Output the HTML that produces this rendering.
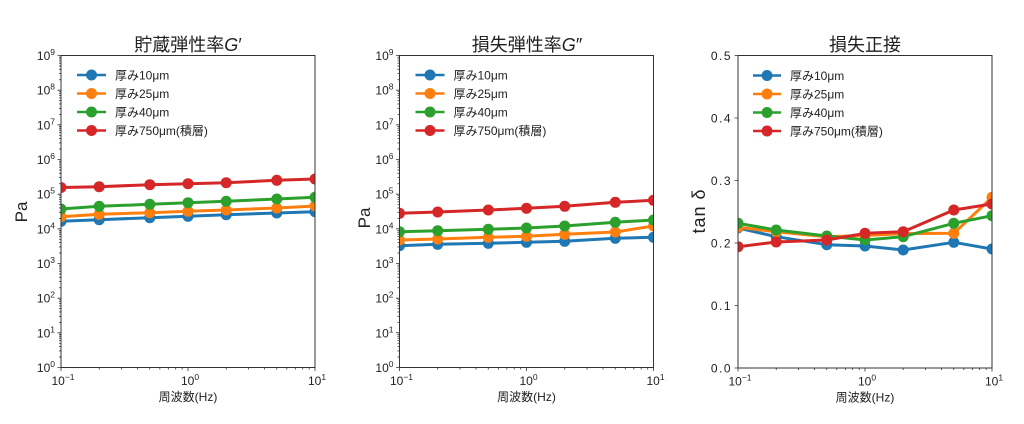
<!DOCTYPE html>
<html><head><meta charset="utf-8"><style>
html,body{margin:0;padding:0;background:#fff;}
svg{display:block;}
text{font-family:"Liberation Sans","Noto Sans CJK JP",sans-serif;fill:#222;}
</style></head><body>
<svg width="1024" height="424" viewBox="0 0 1024 424" xmlns="http://www.w3.org/2000/svg">
<defs>
<clipPath id="c1"><rect x="61" y="55.5" width="254" height="312"/></clipPath>
<clipPath id="c2"><rect x="399.5" y="55.5" width="254" height="312"/></clipPath>
<clipPath id="c3"><rect x="738" y="55.5" width="254" height="312.5"/></clipPath>
<path id="ym" d="M0,-10.44h-2M0,-16.54h-2M0,-20.87h-2M0,-24.23h-2M0,-26.98h-2M0,-29.30h-2M0,-31.31h-2M0,-33.08h-2" stroke="#333" stroke-width="0.8" fill="none"/>
<path id="xm" d="M38.23,0v2M60.59,0v2M76.51,0v2M88.77,0v2M98.83,0v2M107.33,0v2M114.69,0v2M121.19,0v2" stroke="#333" stroke-width="0.8" fill="none"/>
</defs>

<!-- ============ Plot 1 ============ -->
<text x="188" y="51" font-size="18" text-anchor="middle">貯蔵弾性率<tspan font-style="italic">G</tspan>′</text>
<g clip-path="url(#c1)" stroke-width="3" fill="none" stroke-linejoin="round">
<polyline stroke="#1f77b4" points="61,221.3 99.2,219.7 149.8,217.7 188,216.3 226.2,214.7 276.8,213 315,211.7"/>
<g fill="#1f77b4"><circle cx="61" cy="221.3" r="5.5"/><circle cx="99.2" cy="219.7" r="5.5"/><circle cx="149.8" cy="217.7" r="5.5"/><circle cx="188" cy="216.3" r="5.5"/><circle cx="226.2" cy="214.7" r="5.5"/><circle cx="276.8" cy="213" r="5.5"/><circle cx="315" cy="211.7" r="5.5"/></g>
<polyline stroke="#ff7f0e" points="61,216.7 99.2,214.3 149.8,212.7 188,211.3 226.2,210 276.8,208 315,206"/>
<g fill="#ff7f0e"><circle cx="61" cy="216.7" r="5.5"/><circle cx="99.2" cy="214.3" r="5.5"/><circle cx="149.8" cy="212.7" r="5.5"/><circle cx="188" cy="211.3" r="5.5"/><circle cx="226.2" cy="210" r="5.5"/><circle cx="276.8" cy="208" r="5.5"/><circle cx="315" cy="206" r="5.5"/></g>
<polyline stroke="#2ca02c" points="61,209 99.2,206.3 149.8,204.3 188,202.7 226.2,201.3 276.8,199 315,197.3"/>
<g fill="#2ca02c"><circle cx="61" cy="209" r="5.5"/><circle cx="99.2" cy="206.3" r="5.5"/><circle cx="149.8" cy="204.3" r="5.5"/><circle cx="188" cy="202.7" r="5.5"/><circle cx="226.2" cy="201.3" r="5.5"/><circle cx="276.8" cy="199" r="5.5"/><circle cx="315" cy="197.3" r="5.5"/></g>
<polyline stroke="#d62728" points="61,187.5 99.2,186.7 149.8,184.7 188,183.7 226.2,182.7 276.8,180.3 315,179"/>
<g fill="#d62728"><circle cx="61" cy="187.5" r="5.5"/><circle cx="99.2" cy="186.7" r="5.5"/><circle cx="149.8" cy="184.7" r="5.5"/><circle cx="188" cy="183.7" r="5.5"/><circle cx="226.2" cy="182.7" r="5.5"/><circle cx="276.8" cy="180.3" r="5.5"/><circle cx="315" cy="179" r="5.5"/></g>
</g>
<rect x="61" y="55.5" width="254" height="312" fill="none" stroke="#333" stroke-width="1"/>
<use href="#ym" x="61" y="367.5"/><use href="#ym" x="61" y="332.83"/><use href="#ym" x="61" y="298.17"/><use href="#ym" x="61" y="263.5"/><use href="#ym" x="61" y="228.83"/><use href="#ym" x="61" y="194.17"/><use href="#ym" x="61" y="159.5"/><use href="#ym" x="61" y="124.83"/><use href="#ym" x="61" y="90.17"/>
<use href="#xm" x="61" y="367.5"/><use href="#xm" x="188" y="367.5"/>
<path d="M61,367.5h-3.5M61,332.83h-3.5M61,298.17h-3.5M61,263.5h-3.5M61,228.83h-3.5M61,194.17h-3.5M61,159.5h-3.5M61,124.83h-3.5M61,90.17h-3.5M61,55.5h-3.5M61,367.5v3.5M188,367.5v3.5M315,367.5v3.5" stroke="#333" stroke-width="0.8"/>
<g font-size="12" text-anchor="end">
<text x="55" y="372">10<tspan font-size="8.5" dy="-5">0</tspan></text>
<text x="55" y="337.3">10<tspan font-size="8.5" dy="-5">1</tspan></text>
<text x="55" y="302.7">10<tspan font-size="8.5" dy="-5">2</tspan></text>
<text x="55" y="268">10<tspan font-size="8.5" dy="-5">3</tspan></text>
<text x="55" y="233.3">10<tspan font-size="8.5" dy="-5">4</tspan></text>
<text x="55" y="198.7">10<tspan font-size="8.5" dy="-5">5</tspan></text>
<text x="55" y="164">10<tspan font-size="8.5" dy="-5">6</tspan></text>
<text x="55" y="129.3">10<tspan font-size="8.5" dy="-5">7</tspan></text>
<text x="55" y="94.7">10<tspan font-size="8.5" dy="-5">8</tspan></text>
<text x="55" y="60">10<tspan font-size="8.5" dy="-5">9</tspan></text>
</g>
<g font-size="12" text-anchor="middle">
<text x="63" y="385">10<tspan font-size="8.5" dy="-5">−1</tspan></text>
<text x="190" y="385">10<tspan font-size="8.5" dy="-5">0</tspan></text>
<text x="317" y="385">10<tspan font-size="8.5" dy="-5">1</tspan></text>
<text x="188" y="401">周波数(Hz)</text>
</g>
<text transform="translate(27,212) rotate(-90)" font-size="17" text-anchor="middle">Pa</text>
<g stroke-width="2.5">
<line x1="77" y1="75" x2="106" y2="75" stroke="#1f77b4"/><circle cx="91.5" cy="75" r="5.5" fill="#1f77b4"/>
<line x1="77" y1="93.5" x2="106" y2="93.5" stroke="#ff7f0e"/><circle cx="91.5" cy="93.5" r="5.5" fill="#ff7f0e"/>
<line x1="77" y1="112" x2="106" y2="112" stroke="#2ca02c"/><circle cx="91.5" cy="112" r="5.5" fill="#2ca02c"/>
<line x1="77" y1="130.5" x2="106" y2="130.5" stroke="#d62728"/><circle cx="91.5" cy="130.5" r="5.5" fill="#d62728"/>
</g>
<g font-size="12">
<text x="115" y="79.5">厚み10μm</text><text x="115" y="98">厚み25μm</text><text x="115" y="116.5">厚み40μm</text><text x="115" y="135">厚み750μm(積層)</text>
</g>

<!-- ============ Plot 2 ============ -->
<text x="527" y="51" font-size="18" text-anchor="middle">損失弾性率<tspan font-style="italic">G</tspan>″</text>
<g clip-path="url(#c2)" stroke-width="3" fill="none" stroke-linejoin="round">
<polyline stroke="#1f77b4" points="399.5,245.7 437.7,244.3 488.3,243.3 526.5,242.3 564.7,241.3 615.3,238.3 653.5,237.3"/>
<g fill="#1f77b4"><circle cx="399.5" cy="245.7" r="5.5"/><circle cx="437.7" cy="244.3" r="5.5"/><circle cx="488.3" cy="243.3" r="5.5"/><circle cx="526.5" cy="242.3" r="5.5"/><circle cx="564.7" cy="241.3" r="5.5"/><circle cx="615.3" cy="238.3" r="5.5"/><circle cx="653.5" cy="237.3" r="5.5"/></g>
<polyline stroke="#ff7f0e" points="399.5,240 437.7,239 488.3,237.3 526.5,236.3 564.7,234.3 615.3,232 653.5,226"/>
<g fill="#ff7f0e"><circle cx="399.5" cy="240" r="5.5"/><circle cx="437.7" cy="239" r="5.5"/><circle cx="488.3" cy="237.3" r="5.5"/><circle cx="526.5" cy="236.3" r="5.5"/><circle cx="564.7" cy="234.3" r="5.5"/><circle cx="615.3" cy="232" r="5.5"/><circle cx="653.5" cy="226" r="5.5"/></g>
<polyline stroke="#2ca02c" points="399.5,231.7 437.7,230.7 488.3,229.3 526.5,228 564.7,226 615.3,222.3 653.5,220"/>
<g fill="#2ca02c"><circle cx="399.5" cy="231.7" r="5.5"/><circle cx="437.7" cy="230.7" r="5.5"/><circle cx="488.3" cy="229.3" r="5.5"/><circle cx="526.5" cy="228" r="5.5"/><circle cx="564.7" cy="226" r="5.5"/><circle cx="615.3" cy="222.3" r="5.5"/><circle cx="653.5" cy="220" r="5.5"/></g>
<polyline stroke="#d62728" points="399.5,213.3 437.7,212 488.3,210 526.5,208.3 564.7,206.3 615.3,202.3 653.5,200.3"/>
<g fill="#d62728"><circle cx="399.5" cy="213.3" r="5.5"/><circle cx="437.7" cy="212" r="5.5"/><circle cx="488.3" cy="210" r="5.5"/><circle cx="526.5" cy="208.3" r="5.5"/><circle cx="564.7" cy="206.3" r="5.5"/><circle cx="615.3" cy="202.3" r="5.5"/><circle cx="653.5" cy="200.3" r="5.5"/></g>
</g>
<rect x="399.5" y="55.5" width="254" height="312" fill="none" stroke="#333" stroke-width="1"/>
<use href="#ym" x="399.5" y="367.5"/><use href="#ym" x="399.5" y="332.83"/><use href="#ym" x="399.5" y="298.17"/><use href="#ym" x="399.5" y="263.5"/><use href="#ym" x="399.5" y="228.83"/><use href="#ym" x="399.5" y="194.17"/><use href="#ym" x="399.5" y="159.5"/><use href="#ym" x="399.5" y="124.83"/><use href="#ym" x="399.5" y="90.17"/>
<use href="#xm" x="399.5" y="367.5"/><use href="#xm" x="526.5" y="367.5"/>
<path d="M399.5,367.5h-3.5M399.5,332.83h-3.5M399.5,298.17h-3.5M399.5,263.5h-3.5M399.5,228.83h-3.5M399.5,194.17h-3.5M399.5,159.5h-3.5M399.5,124.83h-3.5M399.5,90.17h-3.5M399.5,55.5h-3.5M399.5,367.5v3.5M526.5,367.5v3.5M653.5,367.5v3.5" stroke="#333" stroke-width="0.8"/>
<g font-size="12" text-anchor="end">
<text x="393.5" y="372">10<tspan font-size="8.5" dy="-5">0</tspan></text>
<text x="393.5" y="337.3">10<tspan font-size="8.5" dy="-5">1</tspan></text>
<text x="393.5" y="302.7">10<tspan font-size="8.5" dy="-5">2</tspan></text>
<text x="393.5" y="268">10<tspan font-size="8.5" dy="-5">3</tspan></text>
<text x="393.5" y="233.3">10<tspan font-size="8.5" dy="-5">4</tspan></text>
<text x="393.5" y="198.7">10<tspan font-size="8.5" dy="-5">5</tspan></text>
<text x="393.5" y="164">10<tspan font-size="8.5" dy="-5">6</tspan></text>
<text x="393.5" y="129.3">10<tspan font-size="8.5" dy="-5">7</tspan></text>
<text x="393.5" y="94.7">10<tspan font-size="8.5" dy="-5">8</tspan></text>
<text x="393.5" y="60">10<tspan font-size="8.5" dy="-5">9</tspan></text>
</g>
<g font-size="12" text-anchor="middle">
<text x="401.5" y="385">10<tspan font-size="8.5" dy="-5">−1</tspan></text>
<text x="528.5" y="385">10<tspan font-size="8.5" dy="-5">0</tspan></text>
<text x="655.5" y="385">10<tspan font-size="8.5" dy="-5">1</tspan></text>
<text x="526.5" y="401">周波数(Hz)</text>
</g>
<text transform="translate(370,218) rotate(-90)" font-size="17" text-anchor="middle">Pa</text>
<g stroke-width="2.5">
<line x1="415.5" y1="75" x2="444.5" y2="75" stroke="#1f77b4"/><circle cx="430" cy="75" r="5.5" fill="#1f77b4"/>
<line x1="415.5" y1="93.5" x2="444.5" y2="93.5" stroke="#ff7f0e"/><circle cx="430" cy="93.5" r="5.5" fill="#ff7f0e"/>
<line x1="415.5" y1="112" x2="444.5" y2="112" stroke="#2ca02c"/><circle cx="430" cy="112" r="5.5" fill="#2ca02c"/>
<line x1="415.5" y1="130.5" x2="444.5" y2="130.5" stroke="#d62728"/><circle cx="430" cy="130.5" r="5.5" fill="#d62728"/>
</g>
<g font-size="12">
<text x="453.5" y="79.5">厚み10μm</text><text x="453.5" y="98">厚み25μm</text><text x="453.5" y="116.5">厚み40μm</text><text x="453.5" y="135">厚み750μm(積層)</text>
</g>

<!-- ============ Plot 3 ============ -->
<text x="865" y="51" font-size="18" text-anchor="middle">損失正接</text>
<g clip-path="url(#c3)" stroke-width="3" fill="none" stroke-linejoin="round">
<polyline stroke="#1f77b4" points="738,228 776.2,236.7 826.8,244.7 865,246 903.2,250 953.8,242.3 992,249"/>
<g fill="#1f77b4"><circle cx="738" cy="228" r="5.5"/><circle cx="776.2" cy="236.7" r="5.5"/><circle cx="826.8" cy="244.7" r="5.5"/><circle cx="865" cy="246" r="5.5"/><circle cx="903.2" cy="250" r="5.5"/><circle cx="953.8" cy="242.3" r="5.5"/><circle cx="992" cy="249" r="5.5"/></g>
<polyline stroke="#ff7f0e" points="738,227.3 776.2,231.8 826.8,236.8 865,235.5 903.2,233.6 953.8,233.3 992,197.3"/>
<g fill="#ff7f0e"><circle cx="738" cy="227.3" r="5.5"/><circle cx="776.2" cy="231.8" r="5.5"/><circle cx="826.8" cy="236.8" r="5.5"/><circle cx="865" cy="235.5" r="5.5"/><circle cx="903.2" cy="233.6" r="5.5"/><circle cx="953.8" cy="233.3" r="5.5"/><circle cx="992" cy="197.3" r="5.5"/></g>
<polyline stroke="#2ca02c" points="738,223.3 776.2,230 826.8,236 865,240 903.2,236.7 953.8,223.3 992,215.7"/>
<g fill="#2ca02c"><circle cx="738" cy="223.3" r="5.5"/><circle cx="776.2" cy="230" r="5.5"/><circle cx="826.8" cy="236" r="5.5"/><circle cx="865" cy="240" r="5.5"/><circle cx="903.2" cy="236.7" r="5.5"/><circle cx="953.8" cy="223.3" r="5.5"/><circle cx="992" cy="215.7" r="5.5"/></g>
<polyline stroke="#d62728" points="738,246.7 776.2,242 826.8,240 865,233.3 903.2,231.7 953.8,210 992,204"/>
<g fill="#d62728"><circle cx="738" cy="246.7" r="5.5"/><circle cx="776.2" cy="242" r="5.5"/><circle cx="826.8" cy="240" r="5.5"/><circle cx="865" cy="233.3" r="5.5"/><circle cx="903.2" cy="231.7" r="5.5"/><circle cx="953.8" cy="210" r="5.5"/><circle cx="992" cy="204" r="5.5"/></g>
</g>
<rect x="738" y="55.5" width="254" height="312.5" fill="none" stroke="#333" stroke-width="1"/>
<use href="#xm" x="738" y="368"/><use href="#xm" x="865" y="368"/>
<path d="M738,368h-3.5M738,305.5h-3.5M738,243h-3.5M738,180.5h-3.5M738,118h-3.5M738,55.5h-3.5M738,368v3.5M865,368v3.5M992,368v3.5" stroke="#333" stroke-width="0.8"/>
<g font-size="12" text-anchor="end" letter-spacing="1.5">
<text x="732" y="372.5">0.0</text>
<text x="732" y="310">0.1</text>
<text x="732" y="247.5">0.2</text>
<text x="732" y="185">0.3</text>
<text x="732" y="122.5">0.4</text>
<text x="732" y="60">0.5</text>
</g>
<g font-size="12" text-anchor="middle">
<text x="740" y="385.5">10<tspan font-size="8.5" dy="-5">−1</tspan></text>
<text x="867" y="385.5">10<tspan font-size="8.5" dy="-5">0</tspan></text>
<text x="994" y="385.5">10<tspan font-size="8.5" dy="-5">1</tspan></text>
<text x="865" y="401.5">周波数(Hz)</text>
</g>
<text transform="translate(705,211) rotate(-90)" font-size="18" text-anchor="middle" letter-spacing="1">tan δ</text>
<g stroke-width="2.5">
<line x1="753" y1="75.5" x2="781" y2="75.5" stroke="#1f77b4"/><circle cx="767" cy="75.5" r="5.5" fill="#1f77b4"/>
<line x1="753" y1="94" x2="781" y2="94" stroke="#ff7f0e"/><circle cx="767" cy="94" r="5.5" fill="#ff7f0e"/>
<line x1="753" y1="112.5" x2="781" y2="112.5" stroke="#2ca02c"/><circle cx="767" cy="112.5" r="5.5" fill="#2ca02c"/>
<line x1="753" y1="131" x2="781" y2="131" stroke="#d62728"/><circle cx="767" cy="131" r="5.5" fill="#d62728"/>
</g>
<g font-size="12">
<text x="790" y="80">厚み10μm</text><text x="790" y="98.5">厚み25μm</text><text x="790" y="117">厚み40μm</text><text x="790" y="135.5">厚み750μm(積層)</text>
</g>
</svg>
</body></html>
